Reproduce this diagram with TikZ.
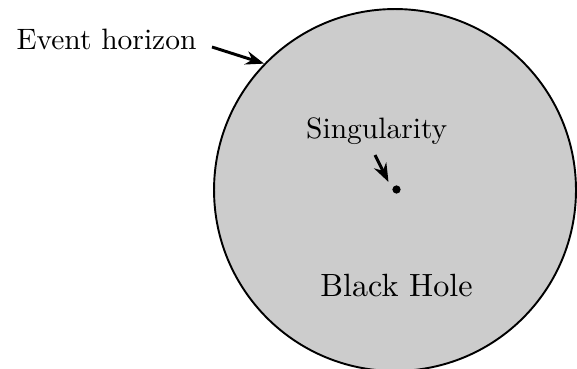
\documentclass[tikz,border=0pt]{standalone}
\usetikzlibrary{arrows.meta}
\begin{document}
\begin{tikzpicture}[x=0.339pt,y=-0.339pt,
  hole/.style={circle,draw=black,line width=0.65pt,fill=black!20,minimum size=122.7pt,inner sep=0pt},
  lbl/.style={inner sep=0pt,anchor=base,font=\fontsize{10}{12}\selectfont},
  pointer/.style={line width=1pt,-{Stealth[length=6.3pt,width=4.6pt]}},
  sdot/.style={circle,fill=black,minimum size=2.8pt,inner sep=0pt}]
\useasboundingbox (0,0) rectangle (577,368);
\node[hole] (bh) at (395,190) {};
\node[lbl] (eh) at (106.5,49) {Event horizon};
\node[lbl] (sg) at (376.7,138) {Singularity};
\node[sdot] (dot) at (396.5,189.5) {};
\node[lbl,font=\fontsize{10.9}{13}\selectfont] (bht) at (396.5,296.5) {Black Hole};
\coordinate (ehs) at (212,47);
\coordinate (sgs) at (375,155);
\coordinate (sge) at (388.5,182);
\draw[pointer] (ehs) -- (bh.136);
\draw[pointer] (sgs) -- (sge);
\end{tikzpicture}
\end{document}
